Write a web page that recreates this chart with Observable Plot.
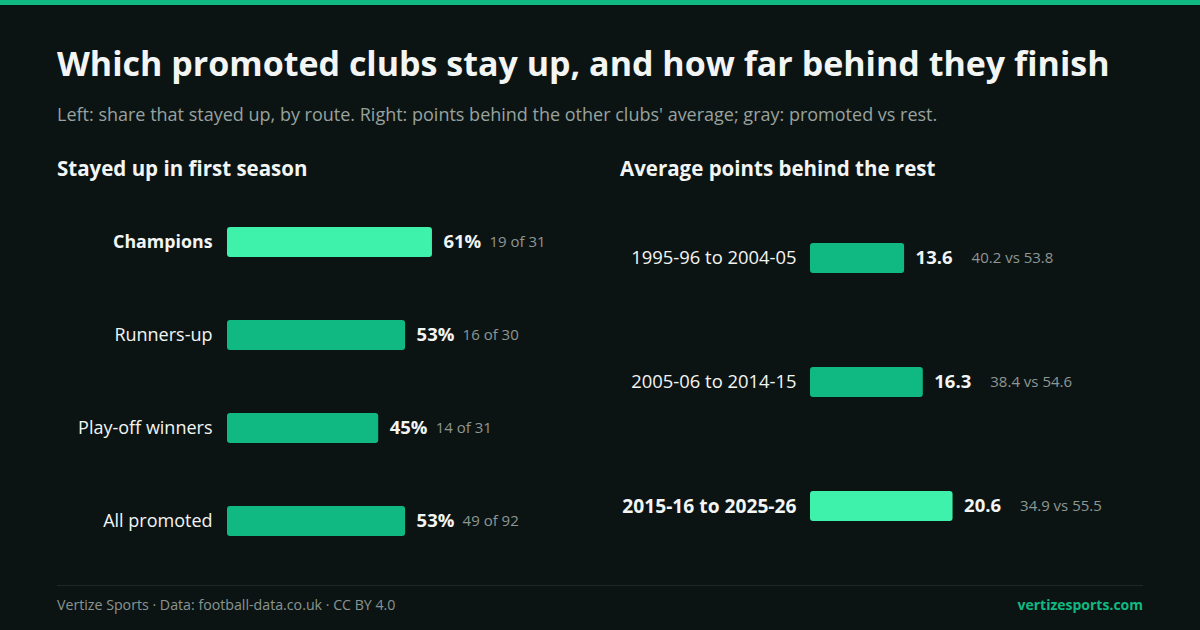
<!DOCTYPE html>
<html>
<head>
<meta charset="utf-8">
<script src="https://cdn.jsdelivr.net/npm/d3@7"></script>
<script src="https://cdn.jsdelivr.net/npm/@observablehq/plot@0.6"></script>
<style>
  html, body { margin: 0; padding: 0; }
  body { width: 1200px; height: 630px; background: #0c1413; position: relative; overflow: hidden; font-family: "Open Sans", sans-serif; }
  .abs { position: absolute; line-height: 1; white-space: nowrap; }
  #topbar { position: absolute; left: 0; top: 0; width: 1200px; height: 5px; background: #10b981; }
  #title { left: 57px; top: 46px; font-size: 34px; font-weight: 700; color: #f2f5f4; }
  #subtitle { left: 57px; top: 104.5px; font-size: 18px; color: #98a29f; }
  .head { top: 158px; font-size: 20.5px; font-weight: 700; color: #f2f5f4; }
  #rule { position: absolute; left: 57px; top: 585px; width: 1086px; height: 1px; background: #1d2725; }
  #foot { left: 57px; top: 598px; font-size: 14.2px; color: #8a9491; }
  #site { right: 57px; top: 598px; font-size: 14px; font-weight: 700; color: #10b981; }
  #left { position: absolute; left: 0; top: 190px; }
  #right { position: absolute; left: 600px; top: 190px; }
</style>
</head>
<body>
<div id="topbar"></div>
<div class="abs" id="title">Which promoted clubs stay up, and how far behind they finish</div>
<div class="abs" id="subtitle">Left: share that stayed up, by route. Right: points behind the other clubs' average; gray: promoted vs rest.</div>
<div class="abs head" style="left:57px">Stayed up in first season</div>
<div class="abs head" style="left:620px">Average points behind the rest</div>
<div id="left"></div>
<div id="right"></div>
<div id="rule"></div>
<div class="abs" id="foot">Vertize Sports · Data: football-data.co.uk · CC BY 4.0</div>
<div class="abs" id="site">vertizesports.com</div>
<script>
// Left panel data
const routes = ["Champions", "Runners-up", "Play-off winners", "All promoted"];
const stayedShare = [0.61, 0.53, 0.45, 0.53];
const stayedCount = [19, 16, 14, 49];
const totalCount = [31, 30, 31, 92];
const routeHighlight = [true, false, false, false];

// Right panel data
const eras = ["1995-96 to 2004-05", "2005-06 to 2014-15", "2015-16 to 2025-26"];
const pointsBehind = [13.6, 16.3, 20.6];
const promotedAvg = [40.2, 38.4, 34.9];
const restAvg = [53.8, 54.6, 55.5];
const eraHighlight = [false, false, true];

const GREEN = "#10b981", BRIGHT = "#3ef2ac", WHITE = "#f2f5f4", GRAY = "#8d9794";
const FONT = "Open Sans";

const left = routes.map((r, i) => ({
  label: r, value: stayedShare[i], hi: routeHighlight[i],
  pct: Math.round(stayedShare[i] * 100) + "%",
  detail: `${stayedCount[i]} of ${totalCount[i]}`
}));

const right = eras.map((e, i) => ({
  label: e, value: pointsBehind[i], hi: eraHighlight[i],
  num: pointsBehind[i].toFixed(1),
  detail: `${promotedAvg[i].toFixed(1)} vs ${restAvg[i].toFixed(1)}`
}));

const leftPlot = Plot.plot({
  width: 600, height: 383,
  marginLeft: 227, marginRight: 37, marginTop: 18, marginBottom: 18,
  style: { background: "transparent", fontFamily: FONT, overflow: "visible" },
  x: { domain: [0, 1], axis: null },
  y: { domain: routes, axis: null, paddingInner: 0.677, paddingOuter: 0.2 },
  marks: [
    Plot.barX(left, { x: "value", y: "label", fill: d => d.hi ? BRIGHT : GREEN, rx: 3 }),
    Plot.text(left.filter(d => d.hi), { x: 0, y: "label", text: "label", dx: -15, textAnchor: "end", fill: WHITE, fontSize: 17.8, fontWeight: 700 }),
    Plot.text(left.filter(d => !d.hi), { x: 0, y: "label", text: "label", dx: -15, textAnchor: "end", fill: WHITE, fontSize: 18 }),
    Plot.text(left, { x: "value", y: "label", text: "pct", dx: 11, textAnchor: "start", fill: WHITE, fontSize: 18.5, fontWeight: 700 }),
    Plot.text(left, { x: "value", y: "label", text: "detail", dx: 57, textAnchor: "start", fill: GRAY, fontSize: 15 })
  ]
});
document.getElementById("left").append(leftPlot);

const rightPlot = Plot.plot({
  width: 600, height: 383,
  marginLeft: 210, marginRight: 217, marginTop: 28, marginBottom: 26,
  style: { background: "transparent", fontFamily: FONT, overflow: "visible" },
  x: { domain: [0, 25], axis: null },
  y: { domain: eras, axis: null, paddingInner: 0.758, paddingOuter: 0.2 },
  marks: [
    Plot.barX(right, { x: "value", y: "label", fill: d => d.hi ? BRIGHT : GREEN, rx: 3 }),
    Plot.text(right.filter(d => d.hi), { x: 0, y: "label", text: "label", dx: -14, textAnchor: "end", fill: WHITE, fontSize: 19.2, fontWeight: 700 }),
    Plot.text(right.filter(d => !d.hi), { x: 0, y: "label", text: "label", dx: -14, textAnchor: "end", fill: WHITE, fontSize: 18.4 }),
    Plot.text(right, { x: "value", y: "label", text: "num", dx: 11, textAnchor: "start", fill: WHITE, fontSize: 18.5, fontWeight: 700 }),
    Plot.text(right, { x: "value", y: "label", text: "detail", dx: 67, textAnchor: "start", fill: GRAY, fontSize: 15 })
  ]
});
document.getElementById("right").append(rightPlot);
</script>
</body>
</html>
